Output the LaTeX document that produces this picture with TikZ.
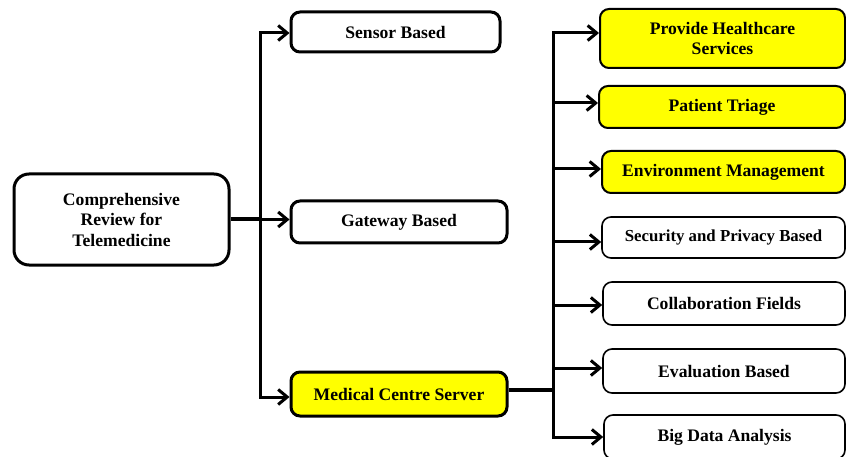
\documentclass[tikz,border=0pt]{standalone}
\usepackage{fontspec}
\setmainfont{Liberation Serif}
\usetikzlibrary{arrows.meta}
\definecolor{hl}{HTML}{FFFF00}
\begin{document}
\begin{tikzpicture}[x=1pt,y=-1pt,
  txt/.style={font=\fontsize{17.6}{20.5}\selectfont\bfseries, align=center, inner sep=0pt},
  lbox/.style={txt, draw, line width=3pt, rounded corners=9pt, fill=white},
  rbox/.style={txt, draw, line width=1.6pt, rounded corners=9pt, fill=white},
  hbox/.style={fill=hl},
  conn/.style={line width=3pt, line join=miter},
  arr/.style={conn, -{Straight Barb[length=9pt,width=15pt]}},
  bus/.style={line width=4pt}]
\useasboundingbox (0,0) rectangle (846,457);

% first level
\node[lbox, rounded corners=15pt, minimum width=215pt, minimum height=91pt] (root) at (121.5,219.5) {Comprehensive\\Review for\\Telemedicine};
\node[lbox, minimum width=209pt, minimum height=40pt] (sensor) at (395.5,32) {Sensor Based};
\node[lbox, minimum width=216pt, minimum height=42pt] (gateway) at (399,222) {Gateway Based};
\node[lbox, hbox, minimum width=216pt, minimum height=44pt] (medical) at (399,394) {Medical Centre Server};

% second level
\node[rbox, hbox, line width=2pt, minimum width=245pt, minimum height=59pt] (phs) at (722.5,38.5) {Provide Healthcare\\Services};
\node[rbox, hbox, line width=2pt, minimum width=246pt, minimum height=42pt] (triage) at (722,107) {Patient Triage};
\node[rbox, hbox, line width=2pt, minimum width=243pt, minimum height=42pt] (env) at (723.5,172) {Environment Management};
\node[rbox, minimum width=243pt, minimum height=41pt, font=\fontsize{16.8}{20}\selectfont\bfseries] (sec) at (723.5,237.5) {Security and Privacy Based};
\node[rbox, minimum width=242pt, minimum height=43pt] (collab) at (724,303.5) {Collaboration Fields};
\node[rbox, minimum width=242pt, minimum height=44pt] (eval) at (724,371) {Evaluation Based};
\node[rbox, minimum width=241pt, minimum height=44pt] (big) at (724.5,437) {Big Data Analysis};

% branching points
\coordinate (ltrunk) at (260,219.5);
\coordinate (rtrunk) at (553,390);

% root to first level
\draw[bus] (root.east) -- (ltrunk);
\draw[arr] (ltrunk) |- ([yshift=-1pt]sensor.west);
\draw[arr] (ltrunk) -- (root.east -| gateway.west);
\draw[arr] (ltrunk) |- ([yshift=-3pt]medical.west);

% server to second level
\draw[bus] ([yshift=4pt]medical.east) -- (rtrunk);
\draw[arr] (rtrunk) |- ([yshift=5.5pt]phs.west);
\draw[arr] (rtrunk) |- ([yshift=4pt]triage.west);
\draw[arr] (rtrunk) |- ([yshift=3pt]env.west);
\draw[arr] (rtrunk) |- ([yshift=-4.5pt]sec.west);
\draw[arr] (rtrunk) |- ([yshift=-1.5pt]collab.west);
\draw[arr] (rtrunk) |- ([yshift=3pt]eval.west);
\draw[arr] (rtrunk) |- (big.west);
\end{tikzpicture}
\end{document}
